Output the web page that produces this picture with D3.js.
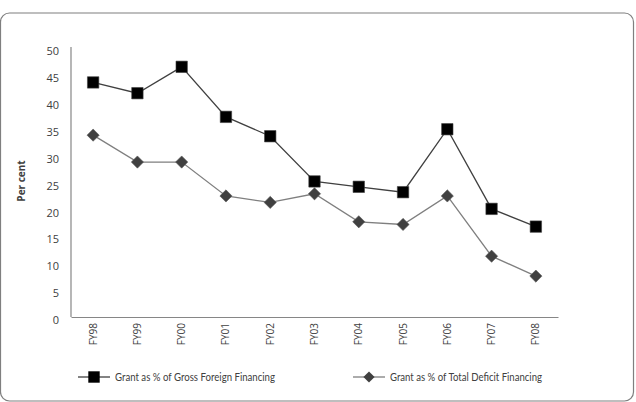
<!DOCTYPE html>
<html>
<head>
<meta charset="utf-8">
<script src="https://cdn.jsdelivr.net/npm/d3@7"></script>
<style>
  body { margin: 0; background: #fff; }
  svg text { font-family: "Open Sans", "Liberation Sans", sans-serif; fill: #404040; }
</style>
</head>
<body>
<svg id="chart" width="636" height="402"></svg>
<script>
// categories and series
const years = ["FY98", "FY99", "FY00", "FY01", "FY02", "FY03", "FY04", "FY05", "FY06", "FY07", "FY08"];
const grossForeign = [43.6, 41.6, 46.5, 37.2, 33.6, 25.2, 24.2, 23.2, 34.9, 20.1, 16.8];
const totalDeficit = [33.8, 28.8, 28.8, 22.5, 21.3, 22.9, 17.7, 17.2, 22.5, 11.3, 7.6];
const yTicks = [0, 5, 10, 15, 20, 25, 30, 35, 40, 45, 50];
const seriesNames = ["Grant as % of Gross Foreign Financing", "Grant as % of Total Deficit Financing"];

const svg = d3.select("svg#chart");

// outer frame with rounded corners
svg.append("rect")
    .attr("x", 0.5).attr("y", 13)
    .attr("width", 633).attr("height", 388)
    .attr("rx", 9)
    .attr("fill", "#fff")
    .attr("stroke", "#7f7f7f")
    .attr("stroke-width", 1.2);

const plotLeft = 71, plotRight = 558, plotTop = 48, plotBottom = 317;

const x = d3.scaleBand().domain(years).range([plotLeft, plotRight]);
const y = d3.scaleLinear().domain([0, 50]).range([plotBottom, plotTop]);
const cx = d => x(d) + x.bandwidth() / 2;

// y axis
const yAxis = svg.append("g")
    .attr("transform", `translate(${plotLeft},0)`)
    .call(d3.axisLeft(y).tickValues(yTicks).tickSize(0).tickPadding(12));
yAxis.select(".domain").attr("stroke", "#868686").attr("stroke-width", 1.2)
    .attr("d", `M0,${plotTop - 1}V${plotBottom}`);
yAxis.selectAll("text").attr("font-size", 11).attr("fill", "#595959").attr("dy", "0.6em");

// x axis
const xAxis = svg.append("g")
    .attr("transform", `translate(0,${plotBottom})`)
    .call(d3.axisBottom(x).tickSize(0));
xAxis.select(".domain").attr("stroke", "#868686").attr("stroke-width", 1.2);
xAxis.selectAll("text")
    .attr("font-size", 10)
    .attr("fill", "#595959")
    .attr("text-anchor", "end")
    .attr("transform", "rotate(-90)")
    .attr("x", -6)
    .attr("y", 0)
    .attr("dy", "0.35em");

// y axis title
svg.append("text")
    .attr("transform", "translate(25,181) rotate(-90)")
    .attr("text-anchor", "middle")
    .attr("font-size", 10)
    .attr("font-weight", "bold")
    .attr("fill", "#595959")
    .text("Per cent");

const line = d3.line().x((d, i) => cx(years[i])).y(d => y(d));

// deficit series (diamonds)
svg.append("path")
    .datum(totalDeficit)
    .attr("d", line)
    .attr("fill", "none")
    .attr("stroke", "#7f7f7f")
    .attr("stroke-width", 1.3);

const diamond = d3.symbol().type(d3.symbolDiamond2).size(95);
svg.selectAll(".dia")
    .data(totalDeficit)
    .join("path")
    .attr("class", "dia")
    .attr("transform", (d, i) => `translate(${cx(years[i])},${y(d)})`)
    .attr("d", diamond)
    .attr("fill", "#404040")
    .attr("stroke", "#595959")
    .attr("stroke-width", 0.6);

// gross foreign series (squares)
svg.append("path")
    .datum(grossForeign)
    .attr("d", line)
    .attr("fill", "none")
    .attr("stroke", "#404040")
    .attr("stroke-width", 1.3);

const square = d3.symbol().type(d3.symbolSquare).size(130);
svg.selectAll(".sq")
    .data(grossForeign)
    .join("path")
    .attr("class", "sq")
    .attr("transform", (d, i) => `translate(${cx(years[i])},${y(d)})`)
    .attr("d", square)
    .attr("fill", "#000")
    .attr("stroke", "#404040")
    .attr("stroke-width", 0.6);

// legend
const legend = [
  { name: seriesNames[0], x: 78, w: 160, sym: square, fill: "#000", line: "#404040" },
  { name: seriesNames[1], x: 353, w: 152, sym: d3.symbol().type(d3.symbolDiamond2).size(80), fill: "#404040", line: "#7f7f7f" }
];
const lg = svg.selectAll(".lg")
    .data(legend)
    .join("g")
    .attr("class", "lg")
    .attr("transform", d => `translate(${d.x},377)`);
lg.append("line")
    .attr("x1", 0).attr("x2", 32)
    .attr("stroke", d => d.line).attr("stroke-width", 1.3);
lg.append("path")
    .attr("transform", "translate(16,0)")
    .attr("d", d => d.sym())
    .attr("fill", d => d.fill);
lg.append("text")
    .attr("x", 37)
    .attr("dy", "0.35em")
    .style("font-family", "Lato, 'Open Sans', sans-serif")
    .style("font-size", "11.5px")
    .attr("fill", "#404040")
    .attr("textLength", d => d.w)
    .attr("lengthAdjust", "spacingAndGlyphs")
    .text(d => d.name);
</script>
</body>
</html>
